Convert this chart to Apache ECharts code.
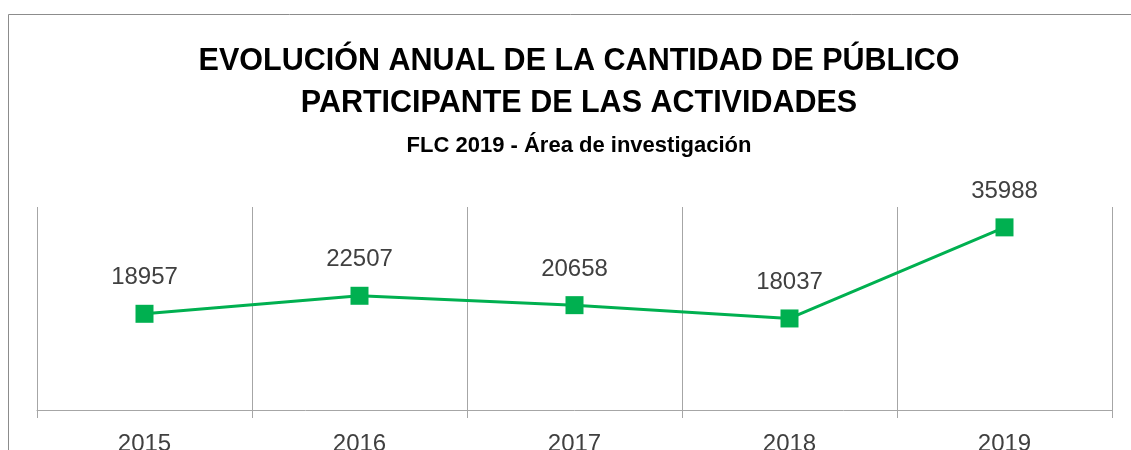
<!DOCTYPE html>
<html>
<head>
<meta charset="utf-8">
<script src="https://cdn.jsdelivr.net/npm/echarts@6/dist/echarts.min.js"></script>
<style>
  html, body { margin: 0; padding: 0; background: #fff; }
  #chart { width: 1131px; height: 450px; }
</style>
</head>
<body>
<div id="chart"></div>
<script>
// datos del gráfico
const years = ["2015", "2016", "2017", "2018", "2019"];
const publico = [18957, 22507, 20658, 18037, 35988];

const titleLines = "EVOLUCIÓN ANUAL DE LA CANTIDAD DE PÚBLICO\nPARTICIPANTE DE LAS ACTIVIDADES";
const subTitle = "FLC 2019 - Área de investigación";

const font = "'Liberation Sans', 'DejaVu Sans', sans-serif";
const green = "#00B050";

const chart = echarts.init(document.getElementById("chart"));

chart.setOption({
  animation: false,
  backgroundColor: "#fff",
  title: {
    text: titleLines,
    subtext: subTitle,
    left: 574,
    textAlign: "center",
    top: 36,
    itemGap: 10,
    textStyle: {
      fontFamily: font,
      fontWeight: "bold",
      fontSize: 30.5,
      lineHeight: 42,
      color: "#000"
    },
    subtextStyle: {
      fontFamily: font,
      fontWeight: "bold",
      fontSize: 22,
      color: "#000"
    }
  },
  graphic: [
    {
      type: "rect",
      shape: { x: 8.5, y: 14.5, width: 1400, height: 600 },
      style: { fill: "none", stroke: "#8c8c8c", lineWidth: 1 },
      silent: true
    }
  ],
  grid: {
    left: 37,
    right: 19,
    top: 207,
    bottom: 40,
    containLabel: false,
    outerBoundsMode: "none"
  },
  xAxis: {
    type: "category",
    data: years,
    boundaryGap: true,
    axisLine: { lineStyle: { color: "#a6a6a6", width: 1 } },
    axisTick: { show: true, length: 8, lineStyle: { color: "#a6a6a6" } },
    splitLine: { show: true, lineStyle: { color: "#a6a6a6", width: 1 } },
    axisLabel: {
      fontFamily: font,
      fontSize: 24,
      color: "#404040",
      margin: 22
    }
  },
  yAxis: {
    type: "value",
    min: 0,
    max: 40000,
    show: false,
    splitLine: { show: false }
  },
  series: [
    {
      name: "Público",
      type: "line",
      data: publico,
      symbol: "rect",
      symbolSize: 18,
      lineStyle: { color: green, width: 3 },
      itemStyle: { color: green },
      label: {
        show: true,
        position: "top",
        distance: 15,
        fontFamily: font,
        fontSize: 24,
        color: "#404040"
      }
    }
  ]
});
</script>
</body>
</html>
